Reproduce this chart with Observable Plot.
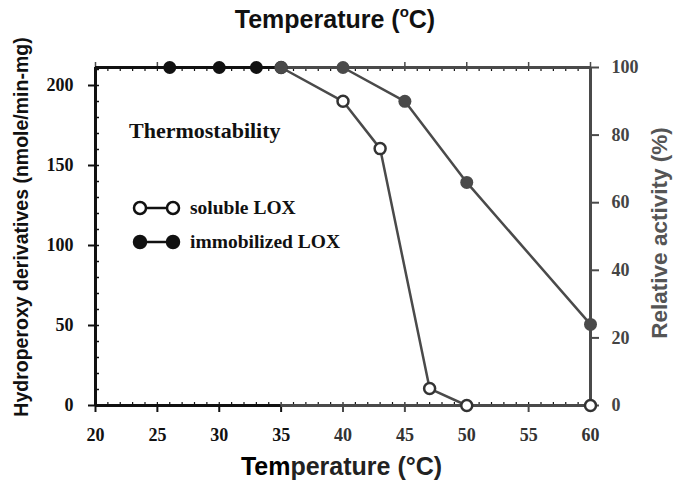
<!DOCTYPE html>
<html>
<head>
<meta charset="utf-8">
<script src="https://cdn.jsdelivr.net/npm/d3@7"></script>
<script src="https://cdn.jsdelivr.net/npm/@observablehq/plot@0.6"></script>
<style>
  html, body { margin: 0; padding: 0; background: #fff; }
  #wrap { width: 674px; height: 484px; position: relative; overflow: hidden; background: #fff; }
  #title { position: absolute; left: 0; top: 7px; width: 670px; text-align: center;
           font-family: "Liberation Sans", Arial, sans-serif; font-weight: bold; font-size: 25px; line-height: 25px; color: #111; }
  #title sup { font-size: 15px; line-height: 0; position: relative; top: -2px; }
  #chart { position: absolute; left: 0; top: 40px; }
</style>
</head>
<body>
<div id="wrap">
  <div id="title">Temperature (<sup>o</sup>C)</div>
  <div id="chart"></div>
</div>
<script>
// ---- data ----
const immobilizedTemp = [26, 30, 33, 35, 40, 45, 50, 60];
const immobilizedActivity = [100, 100, 100, 100, 100, 90, 66, 24];
const solubleTemp = [35, 40, 43, 47, 50, 60];
const solubleActivity = [100, 90, 76, 5, 0, 0];
const xTicks = [20, 25, 30, 35, 40, 45, 50, 55, 60];
const leftTicks = [0, 50, 100, 150, 200];
const leftMax = 211.25;            // left-axis value at 100 % activity
const rightTicks = [0, 20, 40, 60, 80, 100];
const splitTemp = 35;              // colour change (black -> grey)

const BLACK = "#111";
const GREY = "#4a4a4a";
const k = 100 / leftMax;

const immo = immobilizedTemp.map((t, i) => ({t, a: immobilizedActivity[i]}));
const sol = solubleTemp.map((t, i) => ({t, a: solubleActivity[i]}));

const W = 674, H = 444;
const mL = 95, mR = 84, mT = 27, mB = 79;
const SANS = "Liberation Sans, Arial, sans-serif";
const SERIF = "Liberation Serif, Times New Roman, serif";

const labels = (index, scales, values, dim) => {
  const g = d3.create("svg:g");
  const x0 = dim.marginLeft, x1 = dim.width - dim.marginRight;
  const y0 = dim.marginTop, y1 = dim.height - dim.marginBottom;
  g.append("text")
    .attr("transform", `translate(28,${y0 + 160}) rotate(-90)`)
    .attr("text-anchor", "middle")
    .attr("font-family", SANS)
    .attr("font-weight", "bold").attr("font-size", 19.5).attr("fill", BLACK)
    .text("Hydroperoxy derivatives (nmole/min-mg)");
  g.append("text")
    .attr("transform", `translate(${x1 + 77},${y0 + 166}) rotate(-90)`)
    .attr("text-anchor", "middle")
    .attr("font-family", SANS)
    .attr("font-weight", "bold").attr("font-size", 22.5).attr("fill", "#555")
    .text("Relative activity (%)");
  const xt = g.append("text")
    .attr("x", (x0 + x1) / 2 - 1).attr("y", y1 + 70)
    .attr("text-anchor", "middle")
    .attr("font-family", SANS)
    .attr("font-weight", "bold").attr("font-size", 25);
  xt.append("tspan").attr("fill", "#000").text("Tem");
  xt.append("tspan").attr("fill", "#222").text("perature (°C)");
  // legend
  const lx = x0 + 34;
  g.append("text").attr("x", lx).attr("y", y0 + 71)
    .attr("text-anchor", "start")
    .attr("font-family", SERIF)
    .attr("font-weight", "bold").attr("font-size", 22).attr("fill", BLACK)
    .text("Thermostability");
  const items = [{name: "soluble LOX", fill: "#fff"}, {name: "immobilized LOX", fill: BLACK}];
  items.forEach((it, i) => {
    const yy = y0 + 141 + i * 34;
    g.append("line").attr("x1", lx + 12).attr("x2", lx + 40).attr("y1", yy).attr("y2", yy)
      .attr("stroke", BLACK).attr("stroke-width", 2.5);
    [lx + 11, lx + 44].forEach(cx => g.append("circle").attr("cx", cx).attr("cy", yy).attr("r", 6)
      .attr("fill", it.fill).attr("stroke", BLACK).attr("stroke-width", 2.5));
    g.append("text").attr("x", lx + 61).attr("y", yy + 6)
      .attr("text-anchor", "start")
      .attr("font-family", SERIF)
      .attr("font-weight", "bold").attr("font-size", 19.5).attr("fill", BLACK)
      .text(it.name);
  });
  return g.node();
};

const chart = Plot.plot({
  width: W, height: H,
  marginLeft: mL, marginRight: mR, marginTop: mT, marginBottom: mB,
  style: {fontFamily: SERIF, fontWeight: "bold", fontSize: "18px", background: "#fff", overflow: "visible"},
  x: {domain: [20, 60]},
  y: {domain: [0, 100]},
  marks: [
    // minor ticks (inward)
    Plot.axisX({anchor: "bottom", ticks: d3.range(20, 61, 1), tickSize: -3, tickFormat: () => "", stroke: BLACK, strokeWidth: 1.2, label: null}),
    Plot.axisX({anchor: "top", ticks: d3.range(20, 61, 1), tickSize: -3, tickFormat: () => "", stroke: BLACK, strokeWidth: 1.2, label: null}),
    Plot.axisY({anchor: "left", ticks: d3.range(0, 211, 10).map(v => v * k), tickSize: -4, tickFormat: () => "", stroke: BLACK, strokeWidth: 1.5, label: null}),
    // major ticks + labels
    Plot.axisX({anchor: "bottom", ticks: xTicks.filter(v => v <= splitTemp), tickSize: 7, tickPadding: 16, stroke: BLACK, fill: BLACK, strokeWidth: 2, label: null}),
    Plot.axisX({anchor: "bottom", ticks: xTicks.filter(v => v > splitTemp), tickSize: 7, tickPadding: 16, stroke: GREY, fill: "#333", strokeWidth: 2, label: null}),
    Plot.axisX({anchor: "top", ticks: xTicks, tickSize: 6, tickFormat: () => "", stroke: GREY, strokeWidth: 1.5, label: null}),
    Plot.axisY({anchor: "left", ticks: leftTicks.map(v => v * k), tickFormat: d => Math.round(d / k), tickSize: 7, tickPadding: 15, stroke: BLACK, fill: BLACK, strokeWidth: 2, label: null}),
    Plot.axisY({anchor: "right", ticks: rightTicks, tickSize: 8, tickPadding: 13, stroke: GREY, fill: "#444", strokeWidth: 2, label: null}),
    // frame
    Plot.ruleY([100], {x1: 20, x2: splitTemp, stroke: BLACK, strokeWidth: 3}),
    Plot.ruleY([100], {x1: splitTemp, x2: 60, stroke: GREY, strokeWidth: 3}),
    Plot.ruleY([0], {x1: 20, x2: splitTemp, stroke: BLACK, strokeWidth: 3}),
    Plot.ruleY([0], {x1: splitTemp, x2: 60, stroke: GREY, strokeWidth: 3}),
    Plot.ruleX([20], {y1: 0, y2: 100, stroke: BLACK, strokeWidth: 3}),
    Plot.ruleX([60], {y1: 0, y2: 100, stroke: GREY, strokeWidth: 3}),
    // data
    Plot.line(sol, {x: "t", y: "a", stroke: GREY, strokeWidth: 2.5}),
    Plot.line(immo.filter(d => d.t <= splitTemp), {x: "t", y: "a", stroke: BLACK, strokeWidth: 2.5}),
    Plot.line(immo.filter(d => d.t >= splitTemp), {x: "t", y: "a", stroke: GREY, strokeWidth: 2.5}),
    Plot.dot(sol, {x: "t", y: "a", r: 5.5, fill: "#fff", stroke: "#333", strokeWidth: 2.5}),
    Plot.dot(immo, {x: "t", y: "a", r: 6.5, fill: d => d.t < splitTemp ? BLACK : GREY, stroke: "none"}),
    labels
  ]
});
document.getElementById("chart").appendChild(chart);
</script>
</body>
</html>
